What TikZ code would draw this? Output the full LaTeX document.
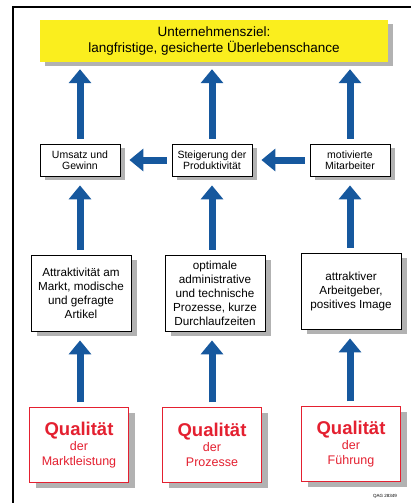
\documentclass[tikz,border=0pt]{standalone}
\usepackage{fontspec}
\setmainfont{Liberation Sans}
\usetikzlibrary{arrows.meta,shadows,positioning}

\definecolor{goalyellow}{RGB}{250,238,30}
\definecolor{arrowblue}{RGB}{22,88,158}
\definecolor{qualred}{RGB}{228,32,48}
\definecolor{shadowgray}{RGB}{178,178,178}

\begin{document}
\begin{tikzpicture}[x=1pt,y=-1pt
% Box styles
		, goal/.style={rectangle
							    , fill=goalyellow
							    , minimum width=348pt
							    , minimum height=42pt
							    , text centered
							    , align=center
							    , font=\fontsize{13.5}{16}\selectfont
							    , drop shadow={shadow xshift=5pt, shadow yshift=-4pt, fill=shadowgray, opacity=1}}
		, effect/.style={rectangle
							    , fill=white
							    , draw=black, thick
							    , minimum width=80pt
							    , minimum height=32pt
							    , inner sep=1pt
							    , align=center
							    , font=\fontsize{10.5}{11.5}\selectfont
							    , drop shadow={shadow xshift=5pt, shadow yshift=-4pt, fill=shadowgray, opacity=1}}
		, measure/.style={rectangle
							    , fill=white
							    , draw=black, thick
							    , minimum width=100pt
							    , minimum height=76pt
							    , inner sep=1pt
							    , align=center
							    , font=\fontsize{11.7}{14}\selectfont
							    , drop shadow={shadow xshift=6pt, shadow yshift=-5pt, fill=shadowgray, opacity=1}}
		, quality/.style={rectangle
							    , fill=white
							    , draw=qualred
							    , text=qualred
							    , minimum width=99pt
							    , minimum height=75pt
							    , align=center
							    , font=\fontsize{12.5}{15}\selectfont
							    , drop shadow={shadow xshift=6pt, shadow yshift=-5pt, fill=shadowgray, opacity=1}}
% Arrow style
		, push/.style={draw=arrowblue
							    , line width=7pt
							    , -{Triangle[width=22pt,length=14pt]}
							    , shorten <=5pt
							    , shorten >=9pt}
	]
	\useasboundingbox (0,0) rectangle (411,503);
%% Frame
	\draw[line width=1.5pt] (13,503) -- (13,7) -- (411,7);
%% Goal
	\node [goal] (goal) at (214,41) {Unternehmensziel:\\langfristige, gesicherte Überlebenschance};
%% Effects
	\node [effect] (umsatz) at (80,160) {Umsatz und\\Gewinn};
	\node [effect] (steig) at (212,160) {Steigerung der\\Produktivität};
	\node [effect] (motiv) at (350,160) {motivierte\\Mitarbeiter};
%% Measures
	\node [measure] (attr) at (81,293) {Attraktivität am\\Markt, modische\\und gefragte\\Artikel};
	\node [measure] (opt) at (215,293) {optimale\\administrative\\und technische\\Prozesse, kurze\\Durchlaufzeiten};
	\node [measure] (arbg) at (351,291) {attraktiver\\Arbeitgeber,\\positives Image};
%% Qualities
	\node [quality] (qmarkt) at (79,445) {{\fontsize{18.5}{18}\selectfont\bfseries Qualität}\\der\\Marktleistung};
	\node [quality] (qproz) at (212,445) {{\fontsize{18.5}{18}\selectfont\bfseries Qualität}\\der\\Prozesse};
	\node [quality] (qfuehr) at (351,444) {{\fontsize{18.5}{18}\selectfont\bfseries Qualität}\\der\\Führung};
	\node [font=\fontsize{4.5}{5}\selectfont] (code) at (385,496) {QAG 28349};
%% Arrows
	\begin{scope}[push]
		\draw [shorten >=7pt] (umsatz.north) -- (umsatz.north |- goal.south);
		\draw [shorten >=7pt] (steig.north) -- (steig.north |- goal.south);
		\draw [shorten >=7pt] (motiv.north) -- (motiv.north |- goal.south);
		\draw (steig.west) -- (umsatz.east);
		\draw (motiv.west) -- (steig.east);
		\draw (umsatz |- attr.north) -- (umsatz.south);
		\draw (steig |- opt.north) -- (steig.south);
		\draw (motiv |- arbg.north) -- (motiv.south);
		\draw (umsatz |- qmarkt.north) -- (umsatz |- attr.south);
		\draw (steig |- qproz.north) -- (steig |- opt.south);
		\draw (motiv |- qfuehr.north) -- (motiv |- arbg.south);
	\end{scope}
\end{tikzpicture}
\end{document}
